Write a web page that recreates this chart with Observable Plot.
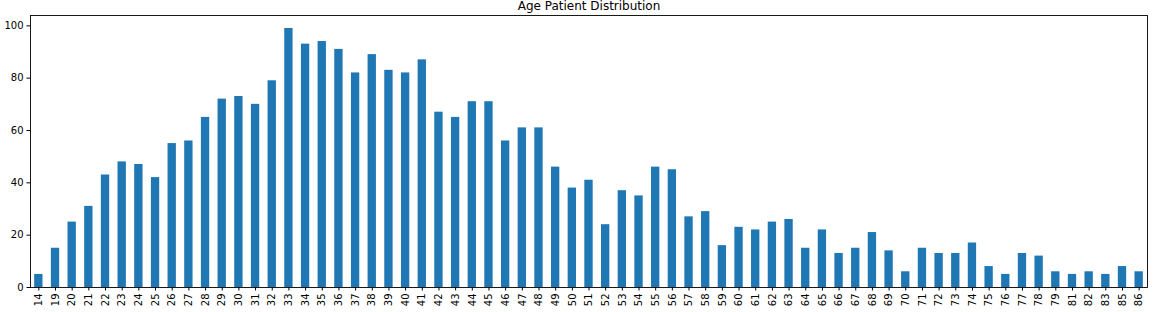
<!DOCTYPE html>
<html>
<head>
<meta charset="utf-8">
<script src="https://cdn.jsdelivr.net/npm/d3@7"></script>
<script src="https://cdn.jsdelivr.net/npm/@observablehq/plot@0.6"></script>
<style>
  html, body { margin: 0; padding: 0; background: #fff; }
</style>
</head>
<body>
<div id="chart"></div>
<script>
const title = "Age Patient Distribution";
const ages = [14, 19, 20, 21, 22, 23, 24, 25, 26, 27, 28, 29, 30, 31, 32, 33, 34, 35, 36, 37, 38, 39,
  40, 41, 42, 43, 44, 45, 46, 47, 48, 49, 50, 51, 52, 53, 54, 55, 56, 57, 58, 59, 60, 61, 62, 63, 64,
  65, 66, 67, 68, 69, 70, 71, 72, 73, 74, 75, 76, 77, 78, 79, 81, 82, 83, 85, 86];
const counts = [5, 15, 25, 31, 43, 48, 47, 42, 55, 56, 65, 72, 73, 70, 79, 99, 93, 94, 91, 82, 89, 83,
  82, 87, 67, 65, 71, 71, 56, 61, 61, 46, 38, 41, 24, 37, 35, 46, 45, 27, 29, 16, 23, 22, 25, 26, 15,
  22, 13, 15, 21, 14, 6, 15, 13, 13, 17, 8, 5, 13, 12, 6, 5, 6, 5, 8, 6];
const yTicks = [0, 20, 40, 60, 80, 100];

const data = ages.map((a, i) => ({age: String(a), count: counts[i]}));
const yMax = d3.max(counts) * 1.05;

const chart = Plot.plot({
  width: 1153,
  height: 312,
  marginLeft: 30,
  marginRight: 6,
  marginTop: 15,
  marginBottom: 25,
  style: {fontFamily: "'DejaVu Sans', sans-serif", fontSize: "10px", color: "#000", background: "#fff"},
  x: {type: "band", domain: ages.map(String), paddingInner: 0.5, paddingOuter: 0.25},
  y: {domain: [0, yMax]},
  marks: [
    Plot.barY(data, {x: "age", y: "count", fill: "#1f77b4"}),
    Plot.axisX({tickRotate: -90, tickSize: 3.5, tickPadding: 2.5, label: null, fontSize: 10}),
    Plot.axisY({ticks: yTicks, tickSize: 3.5, tickPadding: 3.5, label: null, fontSize: 10}),
    Plot.frame({stroke: "#000", strokeWidth: 0.9}),
    Plot.text([title], {frameAnchor: "top", lineAnchor: "middle", dy: -9, fontSize: 12, fill: "#000"})
  ]
});
document.getElementById("chart").appendChild(chart);
</script>
</body>
</html>
